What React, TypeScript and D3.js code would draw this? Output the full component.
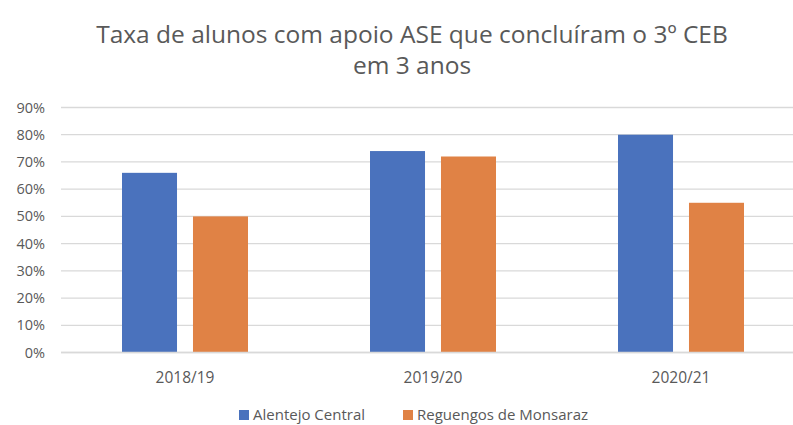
import React, { useEffect, useRef } from 'react';
import * as d3 from 'd3';

const categories = ['2018/19', '2019/20', '2020/21'];
const seriesNames = ['Alentejo Central', 'Reguengos de Monsaraz'];
const alentejoCentral = [0.66, 0.74, 0.80];
const reguengos = [0.50, 0.72, 0.55];
const yTicks = [0, 0.1, 0.2, 0.3, 0.4, 0.5, 0.6, 0.7, 0.8, 0.9];
const colors = ['#4a72bd', '#e08245'];

const App = () => {
  const svgRef = useRef<SVGSVGElement | null>(null);

  useEffect(() => {
    if (!svgRef.current) return;
    const svg = d3.select(svgRef.current);
    svg.selectAll('*').remove();

    const width = 793;
    const height = 425;
    const font = 'Open Sans, Noto Sans, sans-serif';
    const textColor = '#595959';

    svg.attr('width', width).attr('height', height).style('background', '#fff');

    const x0 = d3.scaleBand<string>()
      .domain(categories)
      .range([61, 805])
      .paddingInner(0.492)
      .paddingOuter(0.246);

    const x1 = d3.scaleBand<string>()
      .domain(seriesNames)
      .range([0, x0.bandwidth()])
      .paddingInner(0.225);

    const y = d3.scaleLinear().domain([0, 0.9]).range([352.5, 107.5]);

    // Gridlines
    svg.append('g')
      .selectAll('line')
      .data(yTicks)
      .join('line')
      .attr('x1', 61)
      .attr('x2', width)
      .attr('y1', d => y(d))
      .attr('y2', d => y(d))
      .attr('stroke', '#d9d9d9')
      .attr('stroke-width', 1.3);

    // Y tick labels
    svg.append('g')
      .selectAll('text')
      .data(yTicks)
      .join('text')
      .attr('x', 45)
      .attr('y', d => y(d) + 5)
      .attr('text-anchor', 'end')
      .attr('font-family', font)
      .attr('font-size', '14.5px')
      .attr('fill', textColor)
      .text(d => d3.format('.0%')(d));

    // Bars
    const data = categories.map((c, i) => ({ c, vals: [alentejoCentral[i], reguengos[i]] }));
    const groups = svg.append('g')
      .selectAll('g')
      .data(data)
      .join('g')
      .attr('transform', d => `translate(${x0(d.c)},0)`);

    groups.selectAll('rect')
      .data(d => d.vals.map((v, j) => ({ v, name: seriesNames[j], j })))
      .join('rect')
      .attr('x', d => x1(d.name) as number)
      .attr('width', x1.bandwidth())
      .attr('y', d => y(d.v))
      .attr('height', d => y(0) - y(d.v))
      .attr('fill', d => colors[d.j]);

    // Baseline
    svg.append('line')
      .attr('x1', 61).attr('x2', width)
      .attr('y1', y(0)).attr('y2', y(0))
      .attr('stroke', '#d9d9d9').attr('stroke-width', 1.3);

    // Category labels
    svg.append('g')
      .selectAll('text')
      .data(categories)
      .join('text')
      .attr('x', d => (x0(d) as number) + x0.bandwidth() / 2)
      .attr('y', 383)
      .attr('text-anchor', 'middle')
      .attr('font-family', font)
      .attr('font-size', '15.5px')
      .attr('fill', textColor)
      .text(d => d);

    // Title
    const title = svg.append('text')
      .attr('text-anchor', 'middle')
      .attr('font-family', font)
      .attr('font-size', '24.5px')
      .attr('fill', textColor);
    title.append('tspan').attr('x', 412).attr('y', 43)
      .text('Taxa de alunos com apoio ASE que concluíram o 3º CEB');
    title.append('tspan').attr('x', 412).attr('y', 74).text('em 3 anos');

    // Legend
    const legendX = [239, 403];
    const legend = svg.append('g')
      .selectAll('g')
      .data(seriesNames)
      .join('g')
      .attr('transform', (d, i) => `translate(${legendX[i]},410)`);
    legend.append('rect')
      .attr('width', 10).attr('height', 10)
      .attr('fill', (d, i) => colors[i]);
    legend.append('text')
      .attr('x', 14)
      .attr('y', 10)
      .attr('font-family', font)
      .attr('font-size', '15px')
      .attr('fill', textColor)
      .text(d => d);
  }, []);

  return (
    <div style={{ position: 'absolute', left: 0, top: 0 }}>
      <svg ref={svgRef}></svg>
    </div>
  );
};

export default App;
